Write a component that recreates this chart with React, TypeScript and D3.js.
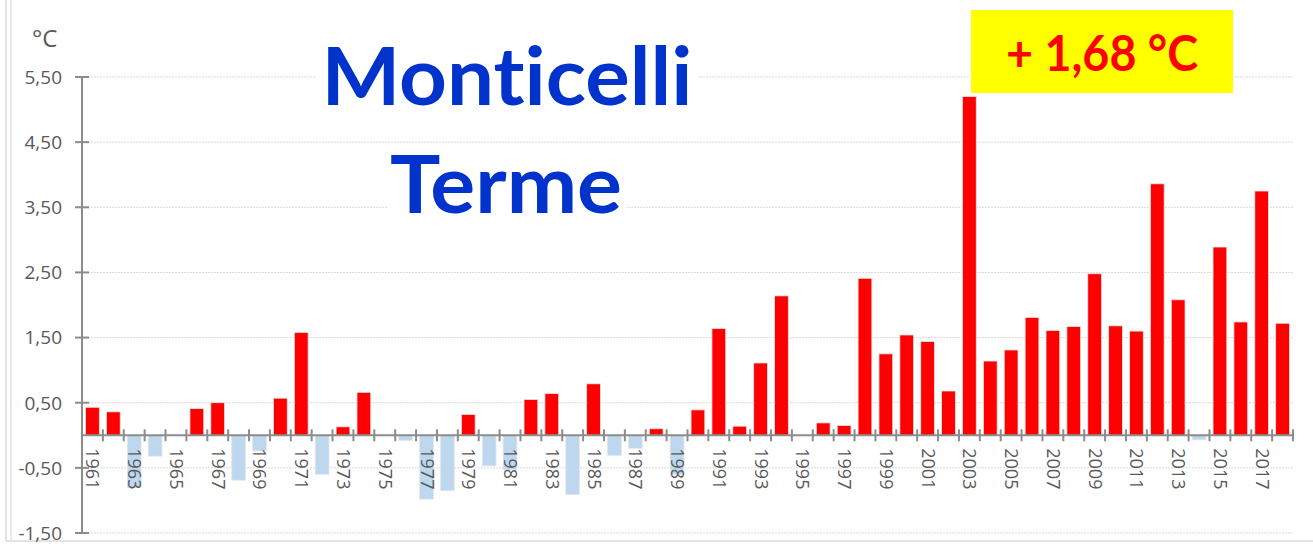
import React from 'react';
import * as d3 from 'd3';

// anni e anomalie di temperatura (°C)
const years = [
  1961, 1962, 1963, 1964, 1965, 1966, 1967, 1968, 1969, 1970,
  1971, 1972, 1973, 1974, 1975, 1976, 1977, 1978, 1979, 1980,
  1981, 1982, 1983, 1984, 1985, 1986, 1987, 1988, 1989, 1990,
  1991, 1992, 1993, 1994, 1995, 1996, 1997, 1998, 1999, 2000,
  2001, 2002, 2003, 2004, 2005, 2006, 2007, 2008, 2009, 2010,
  2011, 2012, 2013, 2014, 2015, 2016, 2017, 2018,
];
const anomalies = [
  0.43, 0.36, -0.80, -0.32, 0, 0.41, 0.50, -0.69, -0.24, 0.57,
  1.58, -0.60, 0.13, 0.66, 0, -0.08, -0.98, -0.85, 0.32, -0.47,
  -0.53, 0.55, 0.64, -0.91, 0.79, -0.31, -0.20, 0.10, -0.60, 0.39,
  1.64, 0.14, 1.11, 2.14, 0, 0.19, 0.15, 2.41, 1.25, 1.54,
  1.44, 0.68, 5.20, 1.14, 1.31, 1.81, 1.61, 1.67, 2.48, 1.68,
  1.60, 3.86, 2.08, -0.07, 2.89, 1.74, 3.75, 1.72,
];
const yTicks = [-1.5, -0.5, 0.5, 1.5, 2.5, 3.5, 4.5, 5.5];
const labelYears = years.filter((y) => (y - 1961) % 2 === 0);
const titleLines = ['Monticelli', 'Terme'];
const trendText = '+ 1,68 °C';

const W = 1313;
const H = 544;
const margin = { top: 77, right: 20, bottom: 11, left: 82 };
const axisColor = '#8c8c8c';
const textColor = '#595959';
const font = '"Open Sans", "Liberation Sans", sans-serif';
const titleFont = 'Lato, "Open Sans", sans-serif';

export default function App() {
  const x = d3.scaleBand<number>()
    .domain(years)
    .range([margin.left, W - margin.right])
    .paddingInner(0.34)
    .paddingOuter(0.17);

  const y = d3.scaleLinear()
    .domain([-1.5, 5.5])
    .range([H - margin.bottom, margin.top]);

  const fmt = (v: number) => d3.format('.2f')(v).replace('.', ',').replace('−', '-');
  const step = x.step();
  const x0 = margin.left;
  const x1 = W - margin.right;
  const zero = y(0);
  const boundaries = d3.range(years.length + 1).map((i) => x0 + i * step);

  return (
    <svg width={W} height={H} style={{ position: 'absolute', left: 0, top: 0, display: 'block', background: '#fff' }}>
      {/* cornice */}
      <line x1={6} x2={6} y1={0} y2={541} stroke="#e3e3e3" strokeWidth={2} />
      <line x1={11} x2={11} y1={0} y2={541} stroke="#e3e3e3" strokeWidth={1.5} />
      <line x1={6} x2={W} y1={541} y2={541} stroke="#e3e3e3" strokeWidth={2} />

      {/* griglia */}
      {yTicks.map((t) => (
        <line key={t} x1={x0} x2={x1} y1={y(t)} y2={y(t)} stroke="#d9d9d9" strokeWidth={1} strokeDasharray="2 1" />
      ))}

      {/* barre */}
      {years.map((yr, i) => {
        const v = anomalies[i];
        if (v === 0) return null;
        return (
          <rect
            key={yr}
            x={x(yr)}
            y={Math.min(y(v), zero)}
            width={x.bandwidth()}
            height={Math.abs(y(v) - zero)}
            fill={v >= 0 ? '#ff0000' : '#bdd7ee'}
            stroke="#e6e6e6"
            strokeWidth={0.8}
          />
        );
      })}

      {/* asse y */}
      <line x1={x0} x2={x0} y1={y(5.5)} y2={y(-1.5)} stroke={axisColor} strokeWidth={2} />
      {yTicks.map((t) => (
        <g key={t}>
          <line x1={x0 - 7} x2={x0 + 7} y1={y(t)} y2={y(t)} stroke={axisColor} strokeWidth={2} />
          <text x={62} y={y(t)} dy="0.36em" textAnchor="end" fontFamily={font} fontSize={19} fill={textColor}>
            {fmt(t)}
          </text>
        </g>
      ))}
      <text x={32} y={47} fontFamily={font} fontSize={24} fill={textColor}>°C</text>

      {/* asse x */}
      <line x1={x0} x2={x1} y1={zero} y2={zero} stroke={axisColor} strokeWidth={2} />
      {boundaries.map((bx, i) => (
        <line key={i} x1={bx} x2={bx} y1={zero - 6} y2={zero + 6} stroke={axisColor} strokeWidth={2} />
      ))}
      {labelYears.map((yr) => {
        const cx = (x(yr) as number) + x.bandwidth() / 2 + 1;
        const ty = zero + 13;
        return (
          <text
            key={yr}
            x={cx}
            y={ty}
            transform={`rotate(90, ${cx}, ${ty})`}
            dominantBaseline="central"
            fontFamily={font}
            fontSize={18}
            fill={textColor}
          >
            {yr}
          </text>
        );
      })}

      {/* titolo */}
      <rect x={316} y={46} width={382} height={62} fill="#fff" />
      <rect x={388} y={154} width={238} height={62} fill="#fff" />
      <text x={507} y={105} textAnchor="middle" fontFamily={titleFont} fontWeight={700} fontSize={80}
        fill="#0033cc" textLength={371} lengthAdjust="spacingAndGlyphs"
        style={{ fontVariantLigatures: 'none' }}>{titleLines[0]}</text>
      <text x={506} y={213} textAnchor="middle" fontFamily={titleFont} fontWeight={700} fontSize={80}
        fill="#0033cc" textLength={232} lengthAdjust="spacingAndGlyphs"
        style={{ fontVariantLigatures: 'none' }}>{titleLines[1]}</text>

      {/* riquadro tendenza */}
      <rect x={971} y={10} width={262} height={83} fill="#ffff00" />
      <text x={1102} y={71} textAnchor="middle" fontFamily={titleFont} fontWeight={700} fontSize={49}
        fill="#ff0000" textLength={192} lengthAdjust="spacingAndGlyphs">{trendText}</text>
    </svg>
  );
}
